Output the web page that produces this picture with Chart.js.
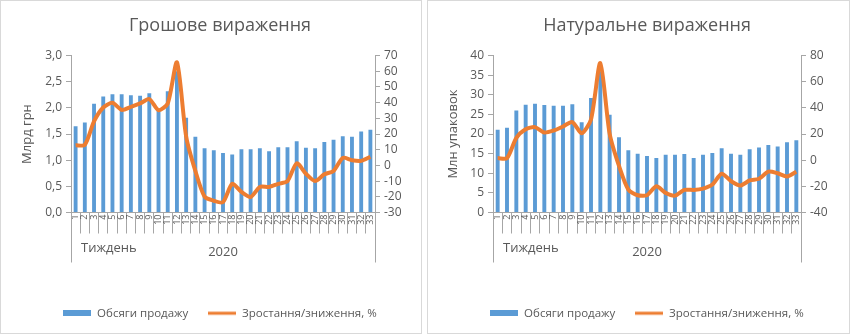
<!DOCTYPE html>
<html>
<head>
<meta charset="utf-8">
<script src="https://cdn.jsdelivr.net/npm/chart.js@4"></script>
<style>
  html, body { margin: 0; padding: 0; background: #ffffff; }
  body { width: 850px; height: 334px; position: relative; overflow: hidden; }
  .panel { position: absolute; top: 0; height: 332px; border: 1px solid #d9d9d9; background: #fff; }
  #p1 { left: 0; width: 420px; }
  #p2 { left: 427px; width: 421px; }
  canvas { display: block; }
</style>
</head>
<body>
<div class="panel" id="p1"><canvas id="c1" width="420" height="332"></canvas></div>
<div class="panel" id="p2"><canvas id="c2" width="421" height="332"></canvas></div>
<script>
// === data ===
const weeks = ["1","2","3","4","5","6","7","8","9","10","11","12","13","14","15","16","17",
  "18","19","20","21","22","23","24","25","26","27","28","29","30","31","32","33"];
const groupLabel = "2020";
const axisGroupTitle = "Тиждень";

// грошове вираження, млрд грн
const moneySales = [1.65,1.72,2.08,2.22,2.26,2.26,2.24,2.23,2.28,1.94,2.32,2.7,1.81,1.45,1.23,1.19,
  1.14,1.11,1.21,1.21,1.23,1.17,1.25,1.25,1.36,1.24,1.23,1.35,1.39,1.46,1.45,1.55,1.58];
const moneyChange = [12.8,13.2,28.1,36.9,39.9,35.4,37.3,39.5,42.3,35.2,39.5,65.7,18.4,-3.5,-19.9,-22.5,
  -23.4,-11.7,-16.9,-20.1,-13.7,-13.7,-11.7,-10,1.4,-5.3,-10,-5.7,-3.5,4.8,3.3,2.9,5.5];

// натуральне вираження, млн упаковок
const packSales = [21.1,21.6,26.0,27.5,27.7,27.4,27.2,27.2,27.6,23.0,29.2,36,24.9,19.2,15.9,15.0,
  14.4,13.9,14.7,14.7,14.9,13.9,14.7,15.2,16.4,15.0,14.7,16.1,16.6,17.2,16.8,17.9,18.4];
const packChange = [1.6,1.6,17.1,23.7,25.3,21.2,22.7,25.8,29.2,20.6,31.2,74.3,20.1,-4.4,-22.5,-26.8,
  -26.8,-19.9,-25,-27.1,-22.7,-22.7,-21.7,-18.6,-10.3,-16,-19.4,-15.5,-14.2,-8.8,-10,-12.4,-8.8];

const BLUE = "#5b9bd5";
const ORANGE = "#ed7d31";
const TEXT = "#595959";
const AXIS = "#a6a6a6";
const FONT = "'Open Sans', 'Noto Sans', sans-serif";

// маленькі картинки для легенди
function legendImg(color, h) {
  const c = document.createElement("canvas");
  c.width = 28; c.height = 6;
  const ctx = c.getContext("2d");
  ctx.fillStyle = color;
  ctx.fillRect(0, (6 - h) / 2, 28, h);
  return c;
}
const barIcon = legendImg(BLUE, 6);
const lineIcon = legendImg(ORANGE, 3);

// підпис групи категорій + довгі крайні риски
const groupPlugin = {
  id: "groupAxis",
  afterDraw(chart) {
    const { ctx, chartArea } = chart;
    ctx.save();
    ctx.strokeStyle = AXIS;
    ctx.lineWidth = 1;
    [chartArea.left, chartArea.right].forEach((x) => {
      const px = Math.round(x) + 0.5;
      ctx.beginPath();
      ctx.moveTo(px, chartArea.bottom);
      ctx.lineTo(px, chartArea.bottom + 50);
      ctx.stroke();
    });
    ctx.fillStyle = TEXT;
    ctx.font = "13px " + FONT;
    ctx.textBaseline = "middle";
    ctx.textAlign = "left";
    ctx.fillText(axisGroupTitle, chartArea.left + 10, chartArea.bottom + 36);
    ctx.textAlign = "center";
    ctx.fillText(groupLabel, (chartArea.left + chartArea.right) / 2, chartArea.bottom + 40);
    ctx.restore();
  },
};

function makeChart(id, title, yTitle, sales, change, left, right) {
  return new Chart(document.getElementById(id), {
    data: {
      labels: weeks,
      datasets: [
        {
          type: "line",
          label: "Зростання/зниження, %",
          data: change,
          yAxisID: "y2",
          borderColor: ORANGE,
          backgroundColor: ORANGE,
          borderWidth: 4,
          pointRadius: 0,
          tension: 0.25,
          pointStyle: lineIcon,
          order: 0,
        },
        {
          type: "bar",
          label: "Обсяги продажу",
          data: sales,
          yAxisID: "y",
          backgroundColor: BLUE,
          barPercentage: 0.42,
          categoryPercentage: 1,
          pointStyle: barIcon,
          order: 1,
        },
      ],
    },
    options: {
      responsive: false,
      animation: false,
      layout: { padding: { left: left.pad, right: 0, top: 0, bottom: 4 } },
      plugins: {
        title: {
          display: true,
          text: title,
          color: TEXT,
          font: { family: FONT, size: 18, weight: "normal" },
          padding: { top: 14, bottom: 19 },
        },
        legend: {
          position: "bottom",
          reverse: true,
          labels: {
            usePointStyle: true,
            pointStyleWidth: 28,
            boxHeight: 6,
            padding: 20,
            color: TEXT,
            font: { family: FONT, size: 11.5 },
          },
        },
        tooltip: { enabled: false },
      },
      scales: {
        x: {
          type: "category",
          offset: true,
          grid: { display: true, offset: true, drawOnChartArea: false, tickLength: 21, color: AXIS },
          border: { display: true, color: AXIS },
          ticks: {
            autoSkip: false,
            maxRotation: 90,
            minRotation: 90,
            padding: -19,
            color: TEXT,
            font: { family: FONT, size: 9 },
          },
          afterFit(s) { s.height = 75; },
        },
        y: {
          position: "left",
          min: left.min,
          max: left.max,
          grid: { display: true, drawOnChartArea: false, tickLength: 5, color: AXIS },
          border: { display: true, color: AXIS },
          ticks: {
            autoSkip: false,
            stepSize: left.step,
            color: TEXT,
            font: { family: FONT, size: 12 },
            padding: 4,
            callback: (v) => left.fmt(v),
          },
          title: {
            display: true,
            text: yTitle,
            color: TEXT,
            font: { family: FONT, size: 13 },
            padding: { top: 0, bottom: 4 },
          },
          afterFit(s) { s.width = left.width; },
        },
        y2: {
          position: "right",
          min: right.min,
          max: right.max,
          grid: { display: true, drawOnChartArea: false, tickLength: 5, color: AXIS },
          border: { display: true, color: AXIS },
          ticks: {
            autoSkip: false,
            stepSize: right.step,
            color: TEXT,
            font: { family: FONT, size: 12 },
            padding: 4,
          },
          afterFit(s) { s.width = right.width; },
        },
      },
    },
    plugins: [groupPlugin],
  });
}

makeChart("c1", "Грошове вираження", "Млрд грн", moneySales, moneyChange,
  { min: 0, max: 3, step: 0.5, pad: 18, width: 52, fmt: (v) => v.toFixed(1).replace(".", ",") },
  { min: -30, max: 70, step: 10, width: 46 });

makeChart("c2", "Натуральне вираження", "Млн упаковок", packSales, packChange,
  { min: 0, max: 40, step: 5, pad: 17, width: 48, fmt: (v) => String(v) },
  { min: -40, max: 80, step: 20, width: 48 });
</script>
</body>
</html>
